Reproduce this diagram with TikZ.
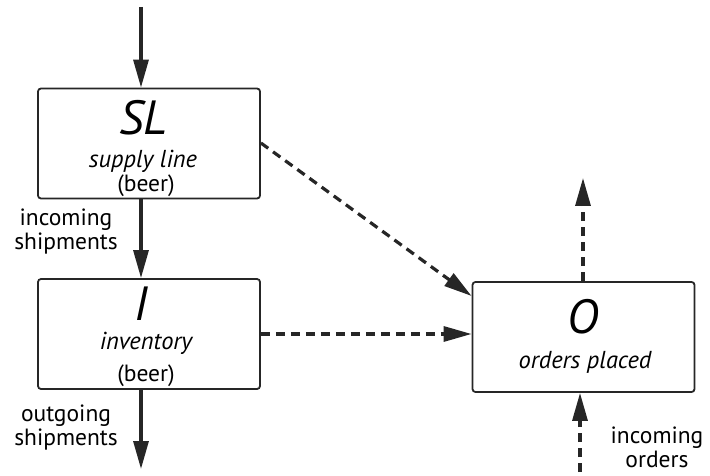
\documentclass[tikz,border=0pt]{standalone}
\usepackage{fontspec}
\setmainfont{PT Sans}
\usetikzlibrary{arrows.meta}
\begin{document}
\begin{tikzpicture}[x=1pt,y=-1pt,
  box/.style={draw=black!85, line width=1.8pt, rounded corners=3pt, minimum width=222pt, minimum height=110pt, inner sep=0pt},
  flow/.style={line width=3.2pt, draw=black!85, -{Triangle[length=28pt,width=15pt]}},
  info/.style={line width=3.2pt, draw=black!85, dash pattern=on 9pt off 6pt, -{Triangle[length=28pt,width=15pt]}},
  big/.style={font=\fontsize{48}{48}\selectfont\itshape, inner sep=0pt},
  sub/.style={font=\fontsize{24.5}{26}\selectfont\itshape, inner sep=0pt},
  lab/.style={font=\fontsize{23.5}{24}\selectfont, inner sep=0pt, align=center}]
\useasboundingbox (0,0) rectangle (710,476);
\node[box] (SL) at (149,143.5) {};
\node[box] (I) at (149,334) {};
\node[box] (O) at (583.5,337) {};
\node[big] (slt) at (143,118) {SL};
\node[sub] (slsub) at (143,161) {supply line};
\node[lab] (slb) at (146,186) {(beer)};
\node[big] (it) at (141,304) {I};
\node[sub] (isub) at (146,343) {inventory};
\node[lab] (ib) at (146,376) {(beer)};
\node[big] (ot) at (583,317) {O};
\node[sub] (osub) at (585,362) {orders placed};
\coordinate (top) at (141,7);
\coordinate (bot) at (141,469);
\coordinate (otop) at (583,178);
\coordinate (obot) at (580,472);
\draw[flow] (top) -- (SL.north -| top);
\draw[flow] (SL.south -| top) -- (I.north -| top);
\draw[flow] (I.south -| top) -- (bot);
\draw[info] (SL.east |- 0,143) -- (O.west |- 0,296);
\draw[info] (I.east |- 0,334) -- (O.west |- 0,334);
\draw[info] (O.north -| otop) -- (otop);
\draw[info] (obot) -- (O.south -| obot);
\node[lab] (inc) at (66,232) {incoming\\shipments};
\node[lab] (out) at (66,428) {outgoing\\shipments};
\node[lab] (ino) at (657,447) {incoming\\orders};
\end{tikzpicture}
\end{document}
